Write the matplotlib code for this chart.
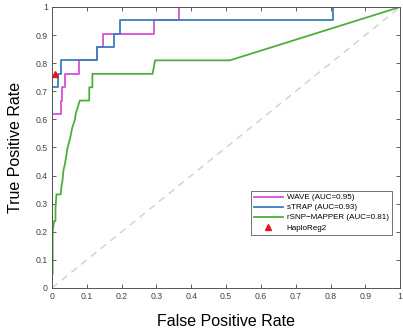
import matplotlib
matplotlib.use("Agg")
import matplotlib.pyplot as plt
import numpy as np

plt.rcParams['font.family'] = ['Liberation Sans', 'DejaVu Sans']

# ROC curves (false positive rate, true positive rate)
wave_fpr = [0, 0, 0.026, 0.026, 0.03, 0.03, 0.037, 0.037, 0.079, 0.079, 0.128, 0.128,
            0.146, 0.146, 0.294, 0.294, 0.366, 0.366, 1.0]
wave_tpr = [0, 0.619, 0.619, 0.667, 0.667, 0.714, 0.714, 0.762, 0.762, 0.810, 0.810, 0.857,
            0.857, 0.905, 0.905, 0.952, 0.952, 1.0, 1.0]

strap_fpr = [0, 0, 0.018, 0.018, 0.025, 0.025, 0.128, 0.128, 0.178, 0.178, 0.195, 0.195,
             0.808, 0.808, 1.0]
strap_tpr = [0, 0.714, 0.714, 0.762, 0.762, 0.810, 0.810, 0.857, 0.857, 0.905, 0.905, 0.952,
             0.952, 1.0, 1.0]

rsnp_fpr = [0, 0, 0.002, 0.002, 0.006, 0.010, 0.010, 0.013, 0.025, 0.027, 0.030, 0.033,
            0.037, 0.041, 0.045, 0.052, 0.058, 0.066, 0.068, 0.068, 0.080, 0.107, 0.107,
            0.116, 0.116, 0.120, 0.289, 0.296, 0.511, 1.0]
rsnp_tpr = [0, 0.05, 0.05, 0.20, 0.238, 0.238, 0.286, 0.333, 0.333, 0.36, 0.38, 0.42,
            0.44, 0.47, 0.50, 0.533, 0.569, 0.600, 0.619, 0.619, 0.667, 0.667, 0.714,
            0.714, 0.762, 0.762, 0.762, 0.810, 0.810, 1.0]

haploreg_fpr = [0.009]
haploreg_tpr = [0.762]

labels = ['WAVE (AUC=0.95)', 'sTRAP (AUC=0.93)', 'rSNP\u2212MAPPER (AUC=0.81)', 'HaploReg2']

fig = plt.figure(figsize=(4.03, 3.31), dpi=100)
ax = fig.add_axes([0.129, 0.13, 0.864, 0.849])

ax.plot([0, 1], [0, 1], linestyle=(0, (5, 4)), color='#d0d0d0', lw=1.0)
ax.plot(wave_fpr, wave_tpr, color='#d84fd8', lw=1.3, label=labels[0])
ax.plot(strap_fpr, strap_tpr, color='#3c7fc0', lw=1.3, label=labels[1])
ax.plot(rsnp_fpr, rsnp_tpr, color='#4caf3c', lw=1.3, label=labels[2])
ax.plot(haploreg_fpr, haploreg_tpr, linestyle='none', marker='^', color='#e8141c',
        markersize=5, label=labels[3])

ax.set_xlim(0, 1)
ax.set_ylim(0, 1)
ticks = np.round(np.arange(0, 1.01, 0.1), 1)
ticklabels = ['0'] + ['%.1f' % t for t in ticks[1:-1]] + ['1']
ax.set_xticks(ticks)
ax.set_xticklabels(ticklabels)
ax.set_yticks(ticks)
ax.set_yticklabels(ticklabels)
ax.tick_params(direction='in', length=3, width=0.6, labelsize=6.3, colors='#444444',
               top=True, right=True, pad=3)
for s in ax.spines.values():
    s.set_linewidth(0.7)
    s.set_color('#555555')

ax.set_xlabel('False Positive Rate', fontsize=11.5, labelpad=9)
ax.set_ylabel('True Positive Rate', fontsize=11.5, labelpad=9)

leg = ax.legend(loc='lower right', bbox_to_anchor=(0.988, 0.175), fontsize=5.8,
                frameon=True, fancybox=False, handlelength=3.6, borderpad=0.4,
                labelspacing=0.3, handletextpad=0.5)
leg.get_frame().set_edgecolor('#333333')
leg.get_frame().set_linewidth(0.6)

fig.savefig('out.png', dpi=100)
